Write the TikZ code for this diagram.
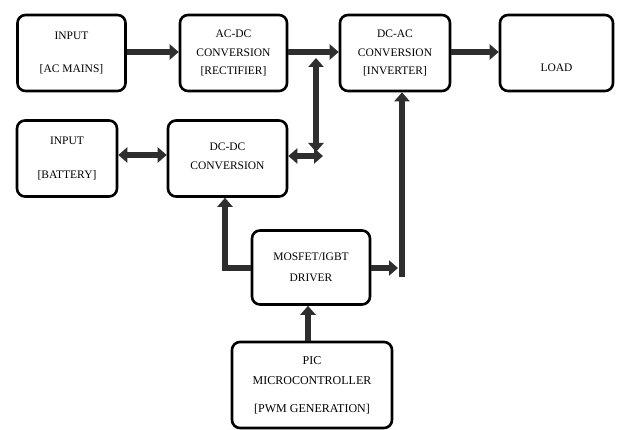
\documentclass[tikz,border=0pt]{standalone}
\usepackage{fontspec}
\setmainfont{Liberation Serif}
\usetikzlibrary{arrows.meta}
\tikzset{
  blk/.style={draw=black, line width=2.6pt, rounded corners=8pt, fill=white,
    align=center, inner sep=0pt,
    font=\fontsize{11.5}{18.5}\selectfont},
  fat/.style={draw=black!82, line width=6pt,
    -{Triangle[width=15pt,length=9pt]}},
  fatb/.style={draw=black!82, line width=6pt,
    {Triangle[width=15pt,length=9pt]}-{Triangle[width=15pt,length=9pt]}}
}
\begin{document}
\begin{tikzpicture}[x=1pt,y=-1pt]
\useasboundingbox (0,0) rectangle (617,430);
\node[blk, minimum width=108pt, minimum height=76pt] (inac) at (71.5,53) {INPUT\\[15pt]{[}AC MAINS{]}};
\node[blk, minimum width=107pt, minimum height=76pt] (acdc) at (233.5,53) {AC-DC\\CONVERSION\\{[}RECTIFIER{]}};
\node[blk, minimum width=110pt, minimum height=76pt] (dcac) at (395,53) {DC-AC\\CONVERSION\\{[}INVERTER{]}};
\node[blk, minimum width=113pt, minimum height=76pt] (load) at (556.5,53) {\mbox{}\\[19pt]LOAD};
\node[blk, minimum width=100pt, minimum height=76pt] (inbat) at (67,158.5) {INPUT\\[15pt]{[}BATTERY{]}};
\node[blk, minimum width=119pt, minimum height=76pt] (dcdc) at (227.5,158.5) {\raisebox{20pt}{\begin{tabular}{@{}c@{}}DC-DC\\[1pt]CONVERSION\end{tabular}}};
\node[blk, minimum width=118pt, minimum height=74pt] (mos) at (311,267.5) {MOSFET/IGBT\\[3pt]DRIVER};
\node[blk, minimum width=160pt, minimum height=86pt, font=\fontsize{12}{20}\selectfont] (pic) at (312,385) {PIC\\MICROCONTROLLER\\[8pt]{[}PWM GENERATION{]}};
\coordinate (bustop) at (316,58);
\coordinate (busbot) at (316,152);
\coordinate (dcdcend) at (323,156);
\coordinate (mosr) at (398,268);
\coordinate (vbot) at (402,277);
\coordinate (mosl) at (225,268);
\draw[fat] (inac.east |- 0,52) -- (acdc.west |- 0,52);
\draw[fat] (acdc.east |- 0,52) -- (dcac.west |- 0,52);
\draw[fat] (dcac.east |- 0,52) -- (load.west |- 0,52);
\draw[fatb] (bustop) -- (busbot);
\draw[fatb] (dcdc.east |- dcdcend) -- (dcdcend);
\draw[fatb] (inbat.east |- 0,155) -- (dcdc.west |- 0,155);
\draw[fat] (mos.west |- mosl) -- (mosl) -- (mosl |- dcdc.south);
\draw[fat] (mos.east |- mosr) -- (mosr);
\draw[fat] (vbot) -- (vbot |- dcac.south);
\draw[fat] (pic.north -| 308,0) -- (mos.south -| 308,0);
\end{tikzpicture}
\end{document}
